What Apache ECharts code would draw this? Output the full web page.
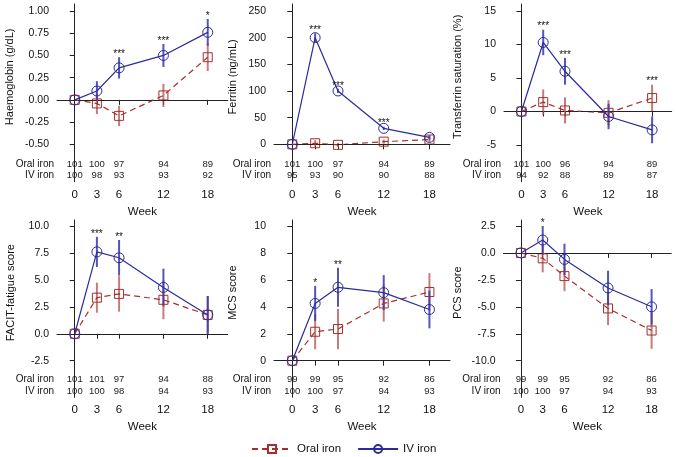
<!DOCTYPE html>
<html><head><meta charset="utf-8">
<script src="https://cdn.jsdelivr.net/npm/echarts@6/dist/echarts.min.js"></script>
<style>html,body{margin:0;padding:0;background:#fff}#c{width:676px;height:457px}</style>
</head><body><div id="c"></div>
<script>
// ---------- data ----------
const weeks = [0, 3, 6, 12, 18];

const hbOral = [0, -0.04, -0.18, 0.05, 0.48];
const hbOralErr = [0, 0.12, 0.115, 0.13, 0.155];
const hbIV = [0, 0.10, 0.36, 0.50, 0.76];
const hbIVErr = [0, 0.11, 0.12, 0.13, 0.15];
const hbSig = ['', '', '***', '***', '*'];
const hbNOral = [101, 100, 97, 94, 89];
const hbNIV = [100, 98, 93, 93, 92];
const hbTicks = [-0.5, -0.25, 0, 0.25, 0.5, 0.75, 1.0];

const ferOral = [0, 2, -1, 5, 9];
const ferOralErr = [0, 6, 4, 4, 5];
const ferIV = [0, 200, 100, 30, 13];
const ferIVErr = [0, 8, 4, 3, 4];
const ferSig = ['', '***', '***', '***', ''];
const ferNOral = [101, 100, 97, 94, 89];
const ferNIV = [95, 93, 90, 90, 88];
const ferTicks = [0, 50, 100, 150, 200, 250];

const tsOral = [0, 1.4, 0.15, -0.2, 2.0];
const tsOralErr = [0, 1.9, 1.95, 1.9, 2.0];
const tsIV = [0, 10.3, 6.0, -0.75, -2.75];
const tsIVErr = [0, 1.9, 2.0, 1.9, 2.0];
const tsSig = ['', '***', '***', '', '***'];
const tsNOral = [101, 100, 96, 94, 89];
const tsNIV = [94, 92, 88, 89, 87];
const tsTicks = [-5, 0, 5, 10, 15];

const faOral = [0, 3.35, 3.7, 3.15, 1.75];
const faOralErr = [0, 1.4, 1.65, 1.8, 1.75];
const faIV = [0, 7.6, 7.05, 4.3, 1.75];
const faIVErr = [0, 1.4, 1.65, 1.75, 1.75];
const faSig = ['', '***', '**', '', ''];
const faNOral = [101, 101, 97, 94, 88];
const faNIV = [100, 100, 98, 94, 93];
const faTicks = [-2.5, 0, 2.5, 5, 7.5, 10];

const mcsOral = [0, 2.15, 2.35, 4.25, 5.1];
const mcsOralErr = [0, 1.3, 1.5, 1.35, 1.4];
const mcsIV = [0, 4.25, 5.45, 5.05, 3.8];
const mcsIVErr = [0, 1.3, 1.45, 1.3, 1.4];
const mcsSig = ['', '*', '**', '', ''];
const mcsNOral = [99, 99, 95, 92, 86];
const mcsNIV = [100, 100, 97, 94, 93];
const mcsTicks = [0, 2, 4, 6, 8, 10];

const pcsOral = [0, -0.5, -2.15, -5.15, -7.2];
const pcsOralErr = [0, 1.3, 1.4, 1.55, 1.7];
const pcsIV = [0, 1.2, -0.6, -3.25, -5.0];
const pcsIVErr = [0, 1.3, 1.45, 1.6, 1.65];
const pcsSig = ['', '*', '', '', ''];
const pcsNOral = [99, 99, 95, 92, 86];
const pcsNIV = [100, 100, 97, 94, 93];
const pcsTicks = [-10, -7.5, -5, -2.5, 0, 2.5];

const titles = ['Haemoglobin (g/dL)', 'Ferritin (ng/mL)', 'Transferrin saturation (%)',
  'FACIT-fatigue score', 'MCS score', 'PCS score'];

// ---------- layout ----------
const FONT = 'Liberation Sans, Arial, sans-serif';
const RED = '#a3302c', BLUE = '#2c2c98';
const RED_BAR = 'rgba(180,80,80,0.75)', BLUE_BAR = 'rgba(55,55,170,0.85)';

const panels = [
  {oral: hbOral, oe: hbOralErr, iv: hbIV, ie: hbIVErr, sig: hbSig, no: hbNOral, ni: hbNIV, ticks: hbTicks, dec: 2,
   left: 57, top: 4, width: 170.7, height: 177.7, yMin: -0.921, yMax: 1.079, gap: 42},
  {oral: ferOral, oe: ferOralErr, iv: ferIV, ie: ferIVErr, sig: ferSig, no: ferNOral, ni: ferNIV, ticks: ferTicks, dec: 0,
   left: 274, top: 4, width: 176, height: 177.7, yMin: -70.1, yMax: 263.1, gap: 36},
  {oral: tsOral, oe: tsOralErr, iv: tsIV, ie: tsIVErr, sig: tsSig, no: tsNOral, ni: tsNIV, ticks: tsTicks, dec: 0,
   left: 504, top: 4, width: 167.7, height: 177.7, yMin: -10.48, yMax: 16.04, gap: 41},
  {oral: faOral, oe: faOralErr, iv: faIV, ie: faIVErr, sig: faSig, no: faNOral, ni: faNIV, ticks: faTicks, dec: 1,
   left: 57, top: 220, width: 170.7, height: 177.3, yMin: -5.897, yMax: 10.557, gap: 41},
  {oral: mcsOral, oe: mcsOralErr, iv: mcsIV, ie: mcsIVErr, sig: mcsSig, no: mcsNOral, ni: mcsNIV, ticks: mcsTicks, dec: 0,
   left: 274, top: 220, width: 176, height: 177.3, yMin: -2.717, yMax: 10.445, gap: 36},
  {oral: pcsOral, oe: pcsOralErr, iv: pcsIV, ie: pcsIVErr, sig: pcsSig, no: pcsNOral, ni: pcsNIV, ticks: pcsTicks, dec: 1,
   left: 503.5, top: 220, width: 167.7, height: 177.3, yMin: -13.397, yMax: 3.057, gap: 40}
];

const grid = [], xAxis = [], yAxis = [], series = [];

panels.forEach((p, i) => {
  grid.push({left: p.left, top: p.top, width: p.width, height: p.height, containLabel: false});
  xAxis.push({
    type: 'value', gridIndex: i, min: -2.4, max: 20.7,
    name: 'Week', nameLocation: 'middle', nameGap: 24,
    nameTextStyle: {fontFamily: FONT, fontSize: 11.5, color: '#111'},
    axisLine: {show: true, lineStyle: {color: '#222', width: 1}},
    axisTick: {show: true, length: 5, customValues: weeks, lineStyle: {color: '#222'}},
    axisLabel: {show: true, customValues: weeks, margin: 7, fontFamily: FONT, fontSize: 11.5, color: '#111'},
    splitLine: {show: false}
  });
  yAxis.push({
    type: 'value', gridIndex: i, min: p.yMin, max: p.yMax,
    name: titles[i], nameLocation: 'middle', nameGap: p.gap,
    nameTextStyle: {fontFamily: FONT, fontSize: 11, color: '#111', padding: [0, 0, 0, 32]},
    axisLine: {show: true, lineStyle: {color: '#222', width: 1}},
    axisTick: {show: true, length: 5, customValues: p.ticks, lineStyle: {color: '#222'}},
    axisLabel: {show: true, customValues: p.ticks, margin: 8, fontFamily: FONT, fontSize: 10.5, color: '#111',
      formatter: v => Number(v).toFixed(p.dec)},
    splitLine: {show: false}
  });

  const pts = arr => weeks.map((w, j) => [w, arr[j]]);

  // error bars
  const errBar = (mean, err, color) => ({
    type: 'custom', xAxisIndex: i, yAxisIndex: i, silent: true, z: 3,
    data: weeks.map((w, j) => [w, mean[j] - err[j], mean[j] + err[j]]),
    renderItem: (params, api) => {
      const a = api.coord([api.value(0), api.value(1)]);
      const b = api.coord([api.value(0), api.value(2)]);
      return {type: 'line', shape: {x1: a[0], y1: a[1], x2: b[0], y2: b[1]},
        style: {stroke: color, lineWidth: 2}};
    }
  });
  series.push(errBar(p.oral, p.oe, RED_BAR));
  series.push(errBar(p.iv, p.ie, BLUE_BAR));

  series.push({
    name: 'Oral iron', type: 'line', xAxisIndex: i, yAxisIndex: i, z: 4,
    data: pts(p.oral), symbol: 'rect', symbolSize: 9, showAllSymbol: true,
    lineStyle: {color: RED, width: 1.2, type: [6, 4]},
    itemStyle: {color: 'rgba(255,255,255,0)', borderColor: RED, borderWidth: 1},
    emphasis: {disabled: true},
    markLine: {silent: true, symbol: 'none', label: {show: false},
      lineStyle: {color: '#222', type: [4, 3], width: 1}, data: [{yAxis: 0}]}
  });
  series.push({
    name: 'IV iron', type: 'line', xAxisIndex: i, yAxisIndex: i, z: 5,
    data: pts(p.iv), symbol: 'circle', symbolSize: 10, showAllSymbol: true,
    lineStyle: {color: BLUE, width: 1.2},
    itemStyle: {color: 'rgba(255,255,255,0)', borderColor: BLUE, borderWidth: 1},
    emphasis: {disabled: true}
  });

  // significance stars
  series.push({
    type: 'custom', xAxisIndex: i, yAxisIndex: i, silent: true, z: 6, clip: false,
    data: weeks.map((w, j) => [w, Math.max(p.oral[j] + p.oe[j], p.iv[j] + p.ie[j])]),
    renderItem: (params, api) => {
      const s = p.sig[params.dataIndex];
      if (!s) return null;
      const c = api.coord([api.value(0), api.value(1)]);
      return {type: 'text', style: {text: s, x: c[0], y: c[1] + 2, align: 'center', verticalAlign: 'bottom',
        fontFamily: FONT, fontSize: 10, fill: '#111'}};
    }
  });

  // number-at-risk rows
  series.push({
    type: 'custom', xAxisIndex: i, yAxisIndex: i, silent: true, z: 6, clip: false,
    data: weeks.map(w => [w, 0]),
    renderItem: (params, api) => {
      const j = params.dataIndex;
      const cs = params.coordSys;
      const x = api.coord([api.value(0), 0])[0];
      const yb = cs.y + cs.height;
      const ch = [
        {type: 'text', style: {text: String(p.no[j]), x: x, y: yb - 17.6, align: 'center', verticalAlign: 'middle',
          fontFamily: FONT, fontSize: 9.5, fill: '#222'}},
        {type: 'text', style: {text: String(p.ni[j]), x: x, y: yb - 6.4, align: 'center', verticalAlign: 'middle',
          fontFamily: FONT, fontSize: 9.5, fill: '#222'}}
      ];
      if (j === 0) {
        ch.push({type: 'text', style: {text: 'Oral iron', x: cs.x - 3, y: yb - 17.6, align: 'right', verticalAlign: 'middle',
          fontFamily: FONT, fontSize: 10, fill: '#111'}});
        ch.push({type: 'text', style: {text: 'IV iron', x: cs.x - 3, y: yb - 6.4, align: 'right', verticalAlign: 'middle',
          fontFamily: FONT, fontSize: 10, fill: '#111'}});
      }
      return {type: 'group', children: ch};
    }
  });
});

const chart = echarts.init(document.getElementById('c'), null, {renderer: 'canvas'});
chart.setOption({
  animation: false,
  backgroundColor: '#fff',
  grid, xAxis, yAxis, series,
  legend: {
    data: ['Oral iron', 'IV iron'], left: 246, top: 438,
    itemWidth: 40, itemHeight: 10, itemGap: 16,
    textStyle: {fontFamily: FONT, fontSize: 11.5, color: '#111'}
  }
});
</script></body></html>
